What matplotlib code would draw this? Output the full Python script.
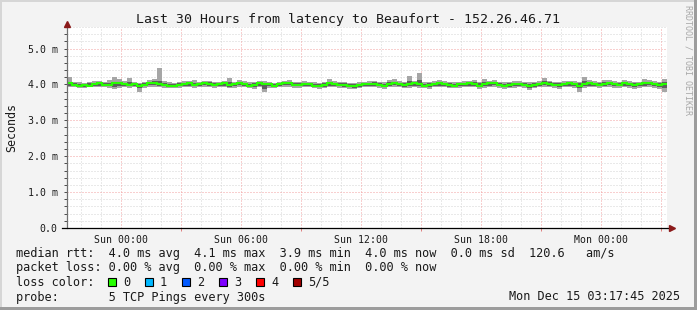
import numpy as np
import matplotlib
matplotlib.use('Agg')
import matplotlib.pyplot as plt
from matplotlib.patches import Rectangle
from matplotlib.ticker import FixedLocator, NullFormatter

plt.rcParams['font.family'] = ['DejaVu Sans Mono', 'DejaVu Sans']

title = "Last 30 Hours from latency to Beaufort - 152.26.46.71"
end_stamp = "Mon Dec 15 03:17:45 2025"
start_hour = -(2 + 42 / 60 + 15 / 3600)   # Sat 21:17:45 relative to Sun 00:00
span_hours = 30
step_hours = 0.25

median_ms = [
    4.04, 3.99, 3.97, 3.98, 3.96, 4.01, 4.03, 3.99, 3.98, 4.03,
    4.05, 4.00, 3.98, 4.01, 3.97, 3.99, 4.04, 4.05, 4.01, 3.99,
    3.97, 3.96, 3.99, 4.02, 4.03, 3.99, 4.01, 4.04, 4.02, 3.99,
    4.01, 4.03, 3.98, 4.00, 4.04, 4.01, 3.97, 3.99, 4.03, 4.00,
    4.01, 3.97, 4.00, 4.03, 4.04, 3.99, 3.98, 4.02, 4.00, 3.97,
    3.96, 3.99, 4.03, 4.01, 3.99, 3.98, 3.96, 3.95, 3.98, 4.01,
    4.02, 4.01, 3.99, 3.97, 4.01, 4.04, 4.00, 3.98, 4.00, 4.03,
    4.01, 3.97, 3.98, 4.02, 4.03, 4.00, 3.98, 3.97, 4.00, 4.02,
    4.03, 4.01, 3.97, 4.00, 4.03, 4.04, 3.99, 3.97, 3.99, 4.01,
    4.02, 3.99, 3.96, 3.99, 4.02, 4.04, 4.02, 3.99, 3.98, 4.01,
    4.03, 4.00, 3.97, 4.02, 4.03, 4.00, 3.99, 4.02, 4.04, 4.01,
    3.99, 4.03, 4.01, 3.98, 4.00, 4.03, 4.04, 4.01, 3.99, 4.02,
]
hi_ms = [
    4.20, 4.08, 4.06, 4.05, 4.07, 4.10, 4.09, 4.08, 4.12, 4.20,
    4.14, 4.10, 4.18, 4.08, 4.05, 4.07, 4.12, 4.14, 4.47, 4.09,
    4.06, 4.05, 4.07, 4.10, 4.09, 4.12, 4.08, 4.10, 4.09, 4.07,
    4.08, 4.10, 4.18, 4.07, 4.12, 4.09, 4.06, 4.08, 4.10, 4.09,
    4.07, 4.05, 4.08, 4.10, 4.13, 4.08, 4.07, 4.09, 4.08, 4.06,
    4.05, 4.07, 4.16, 4.10, 4.08, 4.07, 4.05, 4.04, 4.06, 4.08,
    4.09, 4.10, 4.08, 4.06, 4.12, 4.14, 4.09, 4.07, 4.23, 4.10,
    4.33, 4.06, 4.07, 4.09, 4.12, 4.10, 4.07, 4.06, 4.08, 4.09,
    4.10, 4.12, 4.07, 4.15, 4.10, 4.12, 4.08, 4.06, 4.07, 4.09,
    4.10, 4.08, 4.06, 4.07, 4.10, 4.18, 4.10, 4.08, 4.07, 4.09,
    4.10, 4.09, 4.07, 4.22, 4.12, 4.10, 4.08, 4.11, 4.12, 4.10,
    4.08, 4.12, 4.10, 4.07, 4.08, 4.14, 4.12, 4.10, 4.08, 4.15,
]
q_hi_ms = [
    4.08, 4.04, 4.02, 4.01, 4.04, 4.05, 4.06, 4.04, 4.05, 4.08,
    4.08, 4.05, 4.06, 4.04, 4.02, 4.04, 4.07, 4.09, 4.10, 4.04,
    4.02, 4.01, 4.04, 4.05, 4.06, 4.05, 4.05, 4.07, 4.06, 4.04,
    4.05, 4.06, 4.07, 4.04, 4.07, 4.05, 4.02, 4.04, 4.06, 4.05,
    4.04, 4.02, 4.04, 4.06, 4.08, 4.04, 4.03, 4.05, 4.04, 4.02,
    4.01, 4.03, 4.08, 4.05, 4.04, 4.03, 4.01, 4.00, 4.02, 4.04,
    4.05, 4.06, 4.04, 4.02, 4.06, 4.08, 4.05, 4.03, 4.10, 4.06,
    4.12, 4.02, 4.03, 4.05, 4.07, 4.05, 4.03, 4.02, 4.04, 4.05,
    4.06, 4.07, 4.03, 4.08, 4.06, 4.07, 4.04, 4.02, 4.03, 4.04,
    4.05, 4.04, 4.02, 4.03, 4.05, 4.09, 4.06, 4.04, 4.03, 4.05,
    4.06, 4.04, 4.03, 4.10, 4.07, 4.05, 4.04, 4.06, 4.07, 4.05,
    4.04, 4.07, 4.05, 4.03, 4.04, 4.07, 4.07, 4.05, 4.04, 4.08,
]
q_lo_ms = [
    3.97, 3.96, 3.94, 3.93, 3.96, 3.97, 3.97, 3.96, 3.95, 3.94,
    3.97, 3.96, 3.95, 3.96, 3.90, 3.95, 3.98, 3.99, 3.97, 3.95,
    3.94, 3.93, 3.95, 3.97, 3.97, 3.95, 3.97, 3.98, 3.97, 3.95,
    3.96, 3.97, 3.94, 3.95, 3.98, 3.96, 3.93, 3.93, 3.97, 3.88,
    3.95, 3.93, 3.96, 3.98, 3.98, 3.95, 3.95, 3.97, 3.96, 3.93,
    3.92, 3.94, 3.97, 3.96, 3.95, 3.94, 3.92, 3.90, 3.93, 3.96,
    3.97, 3.97, 3.95, 3.93, 3.96, 3.98, 3.96, 3.94, 3.95, 3.97,
    3.95, 3.93, 3.93, 3.96, 3.97, 3.96, 3.94, 3.93, 3.95, 3.96,
    3.97, 3.96, 3.92, 3.95, 3.97, 3.98, 3.95, 3.93, 3.94, 3.95,
    3.96, 3.95, 3.91, 3.94, 3.96, 3.98, 3.97, 3.95, 3.93, 3.96,
    3.97, 3.95, 3.89, 3.96, 3.97, 3.96, 3.95, 3.97, 3.98, 3.96,
    3.95, 3.97, 3.96, 3.93, 3.95, 3.97, 3.98, 3.96, 3.94, 3.90,
]
lo_ms = [
    3.92, 3.93, 3.90, 3.90, 3.93, 3.94, 3.92, 3.93, 3.91, 3.88,
    3.90, 3.92, 3.91, 3.93, 3.80, 3.90, 3.94, 3.93, 3.92, 3.91,
    3.90, 3.89, 3.91, 3.93, 3.92, 3.90, 3.93, 3.94, 3.92, 3.90,
    3.92, 3.93, 3.90, 3.91, 3.93, 3.92, 3.89, 3.88, 3.92, 3.78,
    3.91, 3.89, 3.92, 3.94, 3.93, 3.90, 3.91, 3.93, 3.92, 3.89,
    3.88, 3.90, 3.93, 3.92, 3.91, 3.90, 3.88, 3.86, 3.89, 3.92,
    3.93, 3.92, 3.90, 3.88, 3.92, 3.94, 3.92, 3.90, 3.91, 3.93,
    3.91, 3.89, 3.88, 3.92, 3.93, 3.92, 3.90, 3.89, 3.91, 3.92,
    3.93, 3.92, 3.86, 3.91, 3.93, 3.94, 3.90, 3.88, 3.89, 3.91,
    3.92, 3.90, 3.85, 3.89, 3.92, 3.93, 3.92, 3.90, 3.88, 3.92,
    3.93, 3.90, 3.80, 3.91, 3.93, 3.92, 3.90, 3.92, 3.93, 3.91,
    3.90, 3.92, 3.91, 3.88, 3.90, 3.92, 3.93, 3.91, 3.88, 3.78,
]

tick_hours = [0, 6, 12, 18, 24]
tick_labels = ["Sun 00:00", "Sun 06:00", "Sun 12:00", "Sun 18:00", "Mon 00:00"]
ytick_values = [0, 1, 2, 3, 4, 5]
ytick_labels = ["0.0", "1.0 m", "2.0 m", "3.0 m", "4.0 m", "5.0 m"]
y_max = 5.6

legend_rows = [
    "median rtt:  4.0 ms avg  4.1 ms max  3.9 ms min  4.0 ms now  0.0 ms sd  120.6   am/s",
    "packet loss: 0.00 % avg  0.00 % max  0.00 % min  0.00 % now",
    "loss color:",
    "probe:       5 TCP Pings every 300s",
]
loss_labels = ["0", "1", "2", "3", "4", "5/5"]
loss_colors = ["#26ff00", "#00b8ff", "#0059ff", "#7e00ff", "#ff0000", "#a10000"]

W, H = 697, 310
BG = "#f3f3f3"
fig = plt.figure(figsize=(W / 100, H / 100), dpi=100, facecolor=BG)


def fx(px):
    return px / W


def fy(py):
    return 1 - py / H


ax = fig.add_axes([fx(67), fy(228), fx(600), 201 / H])
ax.set_facecolor("white")
x0 = start_hour
ax.set_xlim(x0, x0 + span_hours)
ax.set_ylim(0, y_max)
for s in ax.spines.values():
    s.set_visible(False)

# grid
dot = (0, (1, 2))
for h in range(-2, 28):
    if x0 < h < x0 + span_hours:
        major = (h % 3 == 0)
        ax.axvline(h, color="#f2a0a0" if major else "#d4d4d4", lw=0.72, ls=dot, zorder=0.5 if major else 0.4)
for k in range(1, int(round(y_max / 0.2)) + 1):
    v = k * 0.2
    major = abs(v - round(v)) < 1e-6
    ax.axhline(v, color="#f2a0a0" if major else "#d4d4d4", lw=0.72, ls=dot, zorder=0.5 if major else 0.4)

# data
n = len(median_ms)
edges = x0 + step_hours * np.arange(n + 1)
ax.stairs(hi_ms, edges, baseline=lo_ms, fill=True, color="#a6a6a6", lw=0, zorder=2)
ax.stairs(q_hi_ms, edges, baseline=q_lo_ms, fill=True, color="#5e5e5e", lw=0, zorder=2.5)
ax.stairs(median_ms, edges, baseline=None, color=loss_colors[0], lw=1.5, zorder=4)

# axes lines & arrows
ax.plot([0, 0], [0, 1.0], transform=ax.transAxes, color="#707070", lw=0.9, clip_on=False, zorder=5)
ax.plot([-0.008, 1.004], [0, 0], transform=ax.transAxes, color="black", lw=0.9, clip_on=False, zorder=5)
ax.plot([0], [1.015], marker="^", ms=4.5, color="#8b1a1a", transform=ax.transAxes, clip_on=False, zorder=6)
ax.plot([1.0075], [0], marker=">", ms=4.5, color="#8b1a1a", transform=ax.transAxes, clip_on=False, zorder=6)

# ticks
ax.xaxis.set_major_locator(FixedLocator(tick_hours))
ax.set_xticklabels(tick_labels)
ax.xaxis.set_minor_locator(FixedLocator([h for h in range(-2, 28) if h % 3 == 0 and x0 < h < x0 + span_hours]))
ax.xaxis.set_minor_formatter(NullFormatter())
ax.tick_params(axis="x", which="major", length=0, pad=5, labelsize=7.1, labelcolor="#1a1a1a")
ax.tick_params(axis="x", which="minor", length=2.2, width=0.72, color="#e08080")
ax.yaxis.set_major_locator(FixedLocator(ytick_values))
ax.set_yticklabels(ytick_labels)
ax.yaxis.set_minor_locator(FixedLocator([k * 0.2 for k in range(1, 29) if k % 5]))
ax.tick_params(axis="y", which="both", length=2.2, width=0.72, color="#505050", pad=4.5,
               labelsize=7.1, labelcolor="#1a1a1a")

ax.set_ylabel("Seconds", fontsize=8.4, color="#1a1a1a", labelpad=0)
ax.yaxis.set_label_coords(fx(10) - fx(67), 0.5)

# title & texts
fig.text(fx(348.5), fy(19), title, ha="center", va="center", fontsize=9.55, color="#1a1a1a")
fig.text(fx(688), fy(5), "RRDTOOL / TOBI OETIKER", rotation=-90, ha="center", va="top",
         fontsize=6.0, color="#a8a8a8")

row_y = [253, 268, 282, 297]
for txt, yy in zip(legend_rows, row_y):
    fig.text(fx(16), fy(yy), txt, ha="left", va="center", fontsize=8.6, color="#1a1a1a")
fig.text(fx(680), fy(297), end_stamp, ha="right", va="center", fontsize=8.6, color="#1a1a1a")

sq_x = [108, 145, 182, 219, 256, 293]
for lab, col, sx in zip(loss_labels, loss_colors, sq_x):
    fig.patches.append(Rectangle((fx(sx), fy(286)), fx(8), 8 / H, transform=fig.transFigure,
                                 facecolor=col, edgecolor="black", lw=0.8))
    fig.text(fx(sx + 15), fy(282), lab, ha="left", va="center", fontsize=8.6, color="#1a1a1a")

# frame
fig.patches.append(Rectangle((0, 0), fx(2), 1, transform=fig.transFigure, facecolor="#d6d6d6", lw=0))
fig.patches.append(Rectangle((0, fy(2)), 1, 2 / H, transform=fig.transFigure, facecolor="#d6d6d6", lw=0))
fig.patches.append(Rectangle((fx(694), 0), fx(3), 1, transform=fig.transFigure, facecolor="#9c9c9c", lw=0))
fig.patches.append(Rectangle((0, 0), 1, 3 / H, transform=fig.transFigure, facecolor="#9c9c9c", lw=0))

fig.savefig("out.png", dpi=100, facecolor=BG)
